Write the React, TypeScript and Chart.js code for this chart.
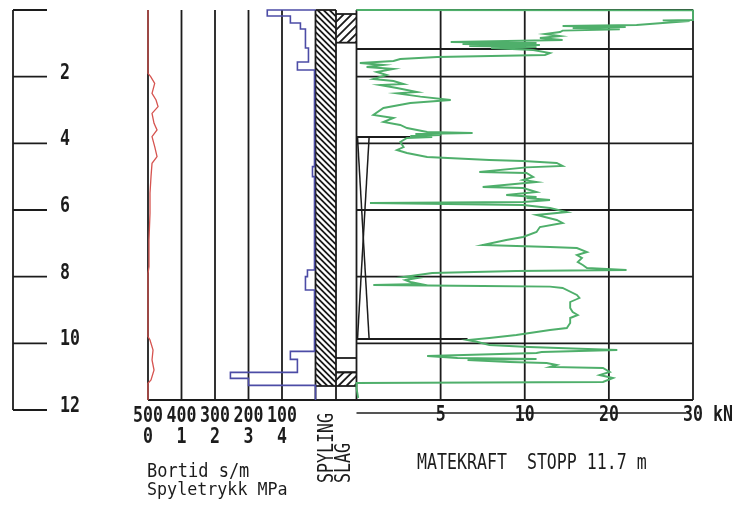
import React, { useEffect, useRef } from 'react';
import { Chart, registerables } from 'chart.js';

Chart.register(...registerables);

// ---------------- data ----------------
const depthTicks = [0, 2, 4, 6, 8, 10, 12];
const depthLabels = ['', '2', '4', '6', '8', '10', '12'];
const stopDepth = 11.7;
const titleText = 'MATEKRAFT  STOPP 11.7 m';

const bortidTicks = [500, 400, 300, 200, 100];
const bortidTickLabels = ['500', '400', '300', '200', '100'];
const spyleTicks = [0, 1, 2, 3, 4];
const spyleTickLabels = ['0', '1', '2', '3', '4'];

const matekraftGrid = [0, 5, 10, 20, 30];
const matekraftTicks = [5, 10, 20, 30];
const matekraftTickLabels = ['5', '10', '20', '30'];
const matekraftUnit = 'kN';

const layerDepths = [0, 1.17, 2, 4, 6, 8, 10, 11.7];
const partialDepths = [3.81, 9.87];
const partialReachKN = [3.2, 6.6];
const symbolTopDepth = 3.81;
const symbolBottomDepth = 9.87;
const symbolWidthKN = 0.75;

const spylingFrom = [0];
const spylingTo = [11.28];
const slagFrom = [0.12, 10.44, 10.87];
const slagTo = [0.98, 10.87, 11.28];
const slagHatched = [true, false, true];

// Spyletrykk (MPa) vs depth (m)
const spyleDepth = [0, 1.9, 2.0, 2.2, 2.5, 2.7, 2.9, 3.1, 3.4, 3.6, 3.8, 4.1, 4.4, 4.6, 5.0, 5.5, 6.1, 6.9, 7.7, 7.9, 9.8, 9.9, 10.2, 10.5, 10.8, 11.1, 11.2, 11.7];
const spyleMPa = [0, 0, 0.08, 0.2, 0.12, 0.24, 0.3, 0.12, 0.18, 0.27, 0.12, 0.2, 0.27, 0.12, 0.09, 0.06, 0.06, 0.03, 0.03, 0, 0, 0.06, 0.15, 0.12, 0.18, 0.09, 0, 0];

// Bortid (s/m), stepped by depth interval
const bortidDepth = [0, 0, 0.18, 0.39, 0.57, 1.14, 1.56, 1.8, 4.7, 5.0, 7.8, 8.0, 8.4, 10.24, 10.48, 10.87, 11.05, 11.26, 11.7];
const bortidSpm = [0, 144, 75, 45, 30, 21, 54, 3, 9, 3, 24, 30, 3, 75, 54, 254, 200, 0, 0];

// Matekraft (kN) vs depth (m)
const mkDepth = [0, 0.01, 0.30, 0.31, 0.33, 0.39, 0.45, 0.48, 0.51, 0.54, 0.58, 0.62, 0.66, 0.72, 0.78, 0.84, 0.90, 0.96, 0.99, 1.02, 1.05, 1.08, 1.11, 1.14, 1.20, 1.29, 1.35, 1.41, 1.47, 1.53, 1.59, 1.65, 1.71, 1.77, 1.86, 1.95, 2.07, 2.13, 2.22, 2.25, 2.34, 2.46, 2.50, 2.60, 2.70, 2.79, 2.94, 3.15, 3.24, 3.36, 3.45, 3.54, 3.66, 3.69, 3.72, 3.75, 3.78, 3.81, 3.84, 3.96, 4.11, 4.20, 4.29, 4.41, 4.50, 4.53, 4.59, 4.68, 4.72, 4.86, 4.89, 5.01, 5.10, 5.16, 5.31, 5.34, 5.46, 5.55, 5.61, 5.64, 5.70, 5.76, 5.79, 5.85, 5.94, 6.06, 6.15, 6.30, 6.39, 6.51, 6.66, 6.81, 6.90, 7.05, 7.11, 7.14, 7.26, 7.35, 7.44, 7.56, 7.65, 7.74, 7.80, 7.83, 7.89, 8.01, 8.04, 8.10, 8.16, 8.22, 8.25, 8.28, 8.30, 8.34, 8.55, 8.64, 8.76, 8.94, 9.06, 9.15, 9.24, 9.39, 9.54, 9.60, 9.69, 9.75, 9.84, 9.90, 9.96, 10.05, 10.11, 10.20, 10.26, 10.29, 10.38, 10.44, 10.47, 10.50, 10.56, 10.59, 10.65, 10.71, 10.74, 10.86, 10.95, 11.04, 11.16, 11.19, 11.34, 11.64];
const mkKN = [0, 30, 30, 26.4, 29.6, 26.4, 23.3, 14.5, 22.0, 15.7, 21.3, 14.5, 14.2, 12.4, 14.2, 11.8, 14.5, 5.6, 11.4, 6.3, 11.8, 6.7, 11.4, 8.0, 11.0, 13.0, 12.4, 4.8, 2.6, 2.2, 0.2, 1.6, 0.6, 2.2, 1.2, 1.8, 1.0, 2.2, 2.8, 1.4, 2.4, 3.6, 2.4, 3.8, 5.6, 3.2, 1.6, 1.0, 2.2, 1.6, 2.6, 3.0, 4.2, 6.9, 3.5, 5.0, 3.2, 4.5, 3.0, 2.6, 2.8, 2.4, 3.0, 4.2, 7.9, 9.9, 13.8, 14.5, 10.2, 7.3, 10.2, 11.0, 9.9, 11.4, 7.5, 9.9, 11.4, 8.9, 11.4, 10.2, 13.0, 9.9, 0.8, 9.9, 13.0, 15.0, 11.4, 13.8, 14.5, 11.8, 11.4, 9.9, 8.9, 7.5, 13.0, 16.2, 17.4, 16.2, 16.8, 16.3, 16.9, 17.4, 22.1, 9.5, 4.5, 2.8, 3.6, 2.9, 3.2, 3.8, 1.0, 7.5, 13.0, 14.5, 16.2, 16.5, 15.4, 15.4, 15.7, 16.3, 15.4, 15.4, 15.0, 13.0, 10.6, 9.5, 7.9, 6.6, 7.2, 7.9, 10.5, 21.0, 12.0, 11.4, 4.2, 6.0, 11.4, 6.6, 9.1, 12.6, 13.8, 13.0, 19.3, 20.1, 18.9, 20.5, 19.3, 0, 0, 0.1];

// ---------------- layout ----------------
const W = 737;
const H = 505;
const AREA = { left: 13, right: 693, top: 10, bottom: 410 };
const PANEL = { spyle0: 148, spyle5: 315.5, gridLeft: 356.5, gridRight: 693 };
const INK = '#1c1c1c';
const RED = '#d65450';
const BLUE = '#4c4ca6';
const GREEN = '#4faf6b';
const FONT = '"DejaVu Sans Mono", monospace';

// piecewise kN axis: 0-10 linear (5 per division), 10-30 (10 per division)
const kNToPos = (v: number) => (v <= 10 ? v / 5 : 2 + (v - 10) / 10);

function span(v0: number, p0: number, v1: number, p1: number) {
  const k = (v1 - v0) / (p1 - p0);
  const a = v0 + (AREA.left - p0) * k;
  const b = v0 + (AREA.right - p0) * k;
  return a < b ? { min: a, max: b, reverse: false } : { min: b, max: a, reverse: true };
}

function seg(ctx: CanvasRenderingContext2D, x1: number, y1: number, x2: number, y2: number) {
  ctx.beginPath();
  ctx.moveTo(x1, y1);
  ctx.lineTo(x2, y2);
  ctx.stroke();
}

function hatch(ctx: CanvasRenderingContext2D, x0: number, y0: number, x1: number, y1: number, step: number, dir: number) {
  ctx.save();
  ctx.beginPath();
  ctx.rect(x0, y0, x1 - x0, y1 - y0);
  ctx.clip();
  const h = y1 - y0;
  ctx.beginPath();
  for (let c = -h; c < x1 - x0 + h; c += step) {
    if (dir > 0) {
      ctx.moveTo(x0 + c, y0);
      ctx.lineTo(x0 + c + h, y1);
    } else {
      ctx.moveTo(x0 + c, y1);
      ctx.lineTo(x0 + c + h, y0);
    }
  }
  ctx.stroke();
  ctx.restore();
}

function txt(ctx: CanvasRenderingContext2D, s: string, x: number, y: number, opt: any = {}) {
  const { size = 16.6, sy = 1.24, align = 'left', rot = 0, weight = 'bold' } = opt;
  ctx.save();
  ctx.translate(x, y);
  if (rot) ctx.rotate(rot);
  ctx.scale(1, sy);
  ctx.font = `${weight} ${size}px ${FONT}`;
  ctx.textAlign = align;
  ctx.textBaseline = 'alphabetic';
  ctx.fillStyle = INK;
  ctx.fillText(s, 0, 0);
  ctx.restore();
}

const panelsPlugin = {
  id: 'panels',
  beforeDatasetsDraw(chart: any) {
    const { ctx, scales } = chart;
    const y = scales.y, xs = scales.xs, xc = scales.xc, xg = scales.xg;
    const py = (d: number) => y.getPixelForValue(d);
    const pg = (v: number) => xg.getPixelForValue(kNToPos(v));
    const yTop = py(0);
    const yStop = py(stopDepth);
    ctx.save();
    ctx.strokeStyle = INK;
    ctx.lineWidth = 1.8;
    ctx.lineCap = 'butt';

    // depth bracket
    const bx = AREA.left;
    seg(ctx, bx, py(depthTicks[0]), bx, py(depthTicks[depthTicks.length - 1]));
    depthTicks.forEach((d, i) => {
      seg(ctx, bx, py(d), bx + 34, py(d));
      if (depthLabels[i]) txt(ctx, depthLabels[i], 60, py(d) + 2);
    });

    // left panel grid
    spyleTicks.forEach((v) => seg(ctx, xs.getPixelForValue(v), yTop, xs.getPixelForValue(v), yStop));

    // bottom line
    seg(ctx, xs.getPixelForValue(0), yStop, pg(30), yStop);

    // spyling column
    const c0 = xc.getPixelForValue(0), c1 = xc.getPixelForValue(1), c2 = xc.getPixelForValue(2);
    seg(ctx, c0, yTop, c0, yStop);
    seg(ctx, c1, yTop, c1, yStop);
    seg(ctx, c0, yTop, c1, yTop);
    ctx.lineWidth = 1.8;
    spylingFrom.forEach((f, i) => {
      hatch(ctx, c0, py(f), c1, py(spylingTo[i]), 6, 1);
    });
    ctx.lineWidth = 1.8;
    spylingTo.forEach((t) => seg(ctx, c0, py(t), c1, py(t)));

    // slag column
    slagFrom.forEach((f, i) => {
      const a = py(f), b = py(slagTo[i]);
      ctx.lineWidth = 1.8;
      seg(ctx, c1, a, c2, a);
      seg(ctx, c1, b, c2, b);
      if (slagHatched[i]) {
        ctx.lineWidth = 1.8;
        hatch(ctx, c1, a, c2, b, 8, -1);
      }
    });
    ctx.lineWidth = 1.8;

    // matekraft grid
    matekraftGrid.forEach((v) => seg(ctx, pg(v), yTop, pg(v), yStop));
    layerDepths.forEach((d) => seg(ctx, pg(0), py(d), pg(30), py(d)));
    partialDepths.forEach((d, i) => seg(ctx, pg(0), py(d), pg(partialReachKN[i]), py(d)));

    // drilling symbol (X)
    ctx.lineWidth = 1.5;
    const sx0 = pg(0) + 1, sx1 = pg(symbolWidthKN);
    seg(ctx, sx0, py(symbolTopDepth), sx1, py(symbolBottomDepth));
    seg(ctx, sx1, py(symbolTopDepth), sx0, py(symbolBottomDepth));
    ctx.restore();
  },
  afterDraw(chart: any) {
    const { ctx, scales } = chart;
    const xs = scales.xs, xb = scales.xb, xg = scales.xg;
    const pg = (v: number) => xg.getPixelForValue(kNToPos(v));
    ctx.save();
    ctx.strokeStyle = INK;
    ctx.lineWidth = 1.6;

    bortidTicks.forEach((v, i) => txt(ctx, bortidTickLabels[i], xb.getPixelForValue(v), 422, { align: 'center' }));
    spyleTicks.forEach((v, i) => txt(ctx, spyleTickLabels[i], xs.getPixelForValue(v), 443, { align: 'center' }));

    seg(ctx, pg(0), 413, pg(30) - 7, 413);
    matekraftTicks.forEach((v, i) => txt(ctx, matekraftTickLabels[i], pg(v), 421, { align: 'center' }));
    txt(ctx, matekraftUnit, pg(30) + 20, 421);

    txt(ctx, 'Bortid s/m', 147, 477, { size: 17, sy: 1.1, weight: 'normal' });
    txt(ctx, 'Spyletrykk MPa', 147, 495, { size: 16.7, sy: 1.1, weight: 'normal' });
    txt(ctx, 'SPYLING', 333, 483, { rot: -Math.PI / 2, weight: 'normal' });
    txt(ctx, 'SLAG', 350, 483, { rot: -Math.PI / 2, weight: 'normal' });
    txt(ctx, titleText, 417, 469, { weight: 'normal' });
    ctx.restore();
  },
};

export default function App() {
  const ref = useRef<HTMLCanvasElement>(null);
  useEffect(() => {
    const canvas = ref.current!;
    const chart = new Chart(canvas, {
      type: 'line',
      data: {
        datasets: [
          {
            label: 'Spyletrykk MPa',
            data: spyleDepth.map((d, i) => ({ x: spyleMPa[i], y: d })),
            xAxisID: 'xs',
            yAxisID: 'y',
            borderColor: RED,
            borderWidth: 1.3,
            pointRadius: 0,
            tension: 0,
            fill: false,
            clip: false,
          } as any,
          {
            label: 'Bortid s/m',
            data: bortidDepth.map((d, i) => ({ x: bortidSpm[i], y: d })),
            xAxisID: 'xb',
            yAxisID: 'y',
            borderColor: BLUE,
            borderWidth: 1.6,
            pointRadius: 0,
            stepped: 'after',
            fill: false,
            clip: false,
          } as any,
          {
            label: 'Matekraft kN',
            data: mkDepth.map((d, i) => ({ x: kNToPos(mkKN[i]), y: d })),
            xAxisID: 'xg',
            yAxisID: 'y',
            borderColor: GREEN,
            borderWidth: 1.9,
            pointRadius: 0,
            tension: 0,
            fill: false,
            clip: false,
          } as any,
        ],
      },
      options: {
        indexAxis: 'y',
        animation: false,
        responsive: false,
        devicePixelRatio: 1,
        layout: {
          padding: { left: AREA.left, right: W - AREA.right, top: AREA.top, bottom: H - AREA.bottom },
        },
        plugins: { legend: { display: false }, tooltip: { enabled: false } },
        scales: {
          y: { type: 'linear', axis: 'y', min: 0, max: 12, reverse: true, display: false },
          xs: { type: 'linear', axis: 'x', position: 'bottom', display: false, bounds: 'data', ...span(0, PANEL.spyle0, 5, PANEL.spyle5) },
          xb: { type: 'linear', axis: 'x', position: 'bottom', display: false, bounds: 'data', ...span(500, PANEL.spyle0, 0, PANEL.spyle5) },
          xc: { type: 'linear', axis: 'x', position: 'bottom', display: false, bounds: 'data', ...span(0, PANEL.spyle5, 2, PANEL.gridLeft) },
          xg: { type: 'linear', axis: 'x', position: 'bottom', display: false, bounds: 'data', ...span(0, PANEL.gridLeft, 4, PANEL.gridRight) },
        },
      } as any,
      plugins: [panelsPlugin],
    });
    return () => chart.destroy();
  }, []);
  return (
    <canvas
      ref={ref}
      width={W}
      height={H}
      style={{ position: 'fixed', left: 0, top: 0, width: W, height: H, background: '#fff' }}
    />
  );
}
